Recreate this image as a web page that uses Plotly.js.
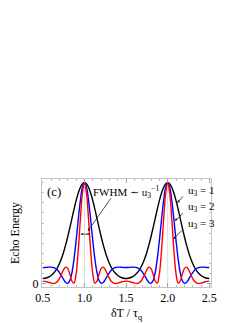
<!DOCTYPE html>
<html>
<head>
<meta charset="utf-8">
<script src="https://cdn.plot.ly/plotly-3.0.1.min.js"></script>
<style>html,body{margin:0;padding:0;background:#fff;}#plot{width:249px;height:323px;}</style>
</head>
<body>
<div id="plot"></div>
<script>
// delta T / tau_q sample points (0.5 .. 2.5 step 0.025)
const deltaT = [0.5,0.525,0.55,0.575,0.6,0.625,0.65,0.675,0.7,0.725,0.75,0.775,0.8,0.825,0.85,0.875,0.9,0.925,0.95,0.975,1.0,
  1.025,1.05,1.075,1.1,1.125,1.15,1.175,1.2,1.225,1.25,1.275,1.3,1.325,1.35,1.375,1.4,1.425,1.45,1.475,1.5,
  1.525,1.55,1.575,1.6,1.625,1.65,1.675,1.7,1.725,1.75,1.775,1.8,1.825,1.85,1.875,1.9,1.925,1.95,1.975,2.0,
  2.025,2.05,2.075,2.1,2.125,2.15,2.175,2.2,2.225,2.25,2.275,2.3,2.325,2.35,2.375,2.4,2.425,2.45,2.475,2.5];

// u3 = 1 (black)
const energyU1 = [0.050,0.052,0.057,0.065,0.079,0.098,0.123,0.156,0.198,0.250,0.313,0.385,0.466,0.555,0.647,0.738,0.822,0.895,0.952,0.988,1.000,
  0.988,0.952,0.895,0.822,0.738,0.647,0.555,0.466,0.385,0.313,0.250,0.198,0.156,0.123,0.098,0.079,0.065,0.057,0.052,0.050,
  0.052,0.057,0.065,0.079,0.098,0.123,0.156,0.198,0.250,0.313,0.385,0.466,0.555,0.647,0.738,0.822,0.895,0.952,0.988,1.000,
  0.988,0.952,0.895,0.822,0.738,0.647,0.555,0.466,0.385,0.313,0.250,0.198,0.156,0.123,0.098,0.079,0.065,0.057,0.052,0.050];

// u3 = 2 (blue)
const energyU2 = [0.158,0.158,0.160,0.162,0.162,0.159,0.151,0.134,0.108,0.075,0.039,0.009,0.001,0.030,0.109,0.245,0.426,0.630,0.818,0.952,1.000,
  0.952,0.818,0.630,0.426,0.245,0.109,0.030,0.001,0.009,0.039,0.075,0.108,0.134,0.151,0.159,0.162,0.162,0.160,0.158,0.158,
  0.158,0.160,0.162,0.162,0.159,0.151,0.134,0.108,0.075,0.039,0.009,0.001,0.030,0.109,0.245,0.426,0.630,0.818,0.952,1.000,
  0.952,0.818,0.630,0.426,0.245,0.109,0.030,0.001,0.009,0.039,0.075,0.108,0.134,0.151,0.159,0.162,0.162,0.160,0.158,0.158];

// u3 = 3 (red)
const energyU3 = [0.023,0.021,0.017,0.010,0.004,0.000,0.004,0.019,0.050,0.093,0.137,0.162,0.147,0.091,0.023,0.003,0.096,0.321,0.627,0.893,1.000,
  0.893,0.627,0.321,0.096,0.003,0.023,0.091,0.147,0.162,0.137,0.093,0.050,0.019,0.004,0.000,0.004,0.010,0.017,0.021,0.023,
  0.021,0.017,0.010,0.004,0.000,0.004,0.019,0.050,0.093,0.137,0.162,0.147,0.091,0.023,0.003,0.096,0.321,0.627,0.893,1.000,
  0.893,0.627,0.321,0.096,0.003,0.023,0.091,0.147,0.162,0.137,0.093,0.050,0.019,0.004,0.000,0.004,0.010,0.017,0.021,0.023];

const seriesNames = ['u3 = 1','u3 = 2','u3 = 3'];
const seriesColors = ['#000000','#0000ff','#ff0000'];
const xTickVals = [0.5,1.0,1.5,2.0,2.5];
const xTickText = ['0.5','1.0','1.5','2.0','2.5'];
const yTickVals = [0];
const yTickText = ['0'];
const gridX = [1, 2];

const ys = [energyU1, energyU2, energyU3];
const traces = ys.map((y, i) => ({
  x: deltaT, y: y, type: 'scatter', mode: 'lines', name: seriesNames[i],
  line: {color: seriesColors[i], width: 1.4, shape: 'spline', smoothing: 1},
  showlegend: false, hoverinfo: 'skip'
}));

const serif = 'Liberation Serif, Times New Roman, serif';
const frameCol = '#c4c4c4';

const shapes = gridX.map(g => ({type:'line', xref:'x', yref:'paper', x0:g, x1:g, y0:0, y1:1,
  line:{color:'#dcdcdc', width:1}, layer:'below'}));

const arrowCommon = {showarrow:true, arrowhead:2, arrowsize:0.7, arrowwidth:0.8, arrowcolor:'#222', font:{family:serif, size:12, color:'#000'}};

const annotations = [
  {text:'(c)', xref:'paper', yref:'paper', x:0.02, y:0.885, xanchor:'left', yanchor:'middle', showarrow:false, font:{family:serif, size:13, color:'#000'}},
  {text:'FWHM ∼ u<sub>3</sub><sup>−1</sup>', xref:'x', yref:'y', x:1.5, y:0.91, xanchor:'center', yanchor:'middle', showarrow:false, font:{family:serif, size:11, color:'#000'}},
  Object.assign({}, arrowCommon, {text:'', xref:'x', yref:'y', x:1.04, y:0.52, axref:'x', ayref:'y', ax:1.33, ay:0.86}),
  {text:'', xref:'x', yref:'y', x:1.065, y:0.49, axref:'x', ayref:'y', ax:0.935, ay:0.49, showarrow:true, arrowhead:2, startarrowhead:2, arrowside:'end+start', arrowsize:0.6, arrowwidth:0.8, arrowcolor:'#222'},
  {text:'u<sub>3</sub> = 1', xref:'x', yref:'y', x:2.22, y:0.92, xanchor:'left', yanchor:'middle', showarrow:false, font:{family:serif, size:11, color:'#000'}},
  {text:'u<sub>3</sub> = 2', xref:'x', yref:'y', x:2.22, y:0.755, xanchor:'left', yanchor:'middle', showarrow:false, font:{family:serif, size:11, color:'#000'}},
  {text:'u<sub>3</sub> = 3', xref:'x', yref:'y', x:2.22, y:0.59, xanchor:'left', yanchor:'middle', showarrow:false, font:{family:serif, size:11, color:'#000'}},
  Object.assign({}, arrowCommon, {text:'', xref:'x', yref:'y', x:2.115, y:0.80, axref:'x', ayref:'y', ax:2.2, ay:0.88}),
  Object.assign({}, arrowCommon, {text:'', xref:'x', yref:'y', x:2.085, y:0.62, axref:'x', ayref:'y', ax:2.2, ay:0.71}),
  Object.assign({}, arrowCommon, {text:'', xref:'x', yref:'y', x:2.065, y:0.44, axref:'x', ayref:'y', ax:2.2, ay:0.55})
];

const layout = {
  width: 249, height: 323,
  margin: {l: 42, r: 38, t: 179, b: 36},
  paper_bgcolor: '#fff', plot_bgcolor: '#fff',
  font: {family: serif, size: 11, color: '#000'},
  showlegend: false,
  xaxis: {
    range: [0.49, 2.52], tickmode: 'array', tickvals: xTickVals, ticktext: xTickText,
    ticks: 'inside', ticklen: 4, tickcolor: '#999', tickwidth: 0.8,
    minor: {dtick: 0.1, tick0: 0.5, ticks: 'inside', ticklen: 2, tickcolor: '#aaa', showgrid: false},
    showline: true, linecolor: frameCol, linewidth: 1, mirror: 'allticks',
    showgrid: false, zeroline: false,
    tickfont: {family: serif, size: 12, color: '#000'},
    title: {text: 'δT / τ<sub>q</sub>', font: {family: serif, size: 12, color: '#000'}, standoff: 4}
  },
  yaxis: {
    range: [-0.035, 1.037], tickmode: 'array', tickvals: yTickVals, ticktext: yTickText,
    ticks: 'inside', ticklen: 4, tickcolor: '#999', tickwidth: 0.8,
    minor: {dtick: 0.1, tick0: 0, ticks: 'inside', ticklen: 2, tickcolor: '#aaa', showgrid: false},
    showline: true, linecolor: frameCol, linewidth: 1, mirror: 'allticks',
    showgrid: false, zeroline: false,
    tickfont: {family: serif, size: 12, color: '#000'},
    title: {text: 'Echo Energy', font: {family: serif, size: 12, color: '#000'}, standoff: 10}
  },
  shapes: shapes,
  annotations: annotations
};

Plotly.newPlot('plot', traces, layout, {displayModeBar: false, staticPlot: true});
</script>
</body>
</html>
